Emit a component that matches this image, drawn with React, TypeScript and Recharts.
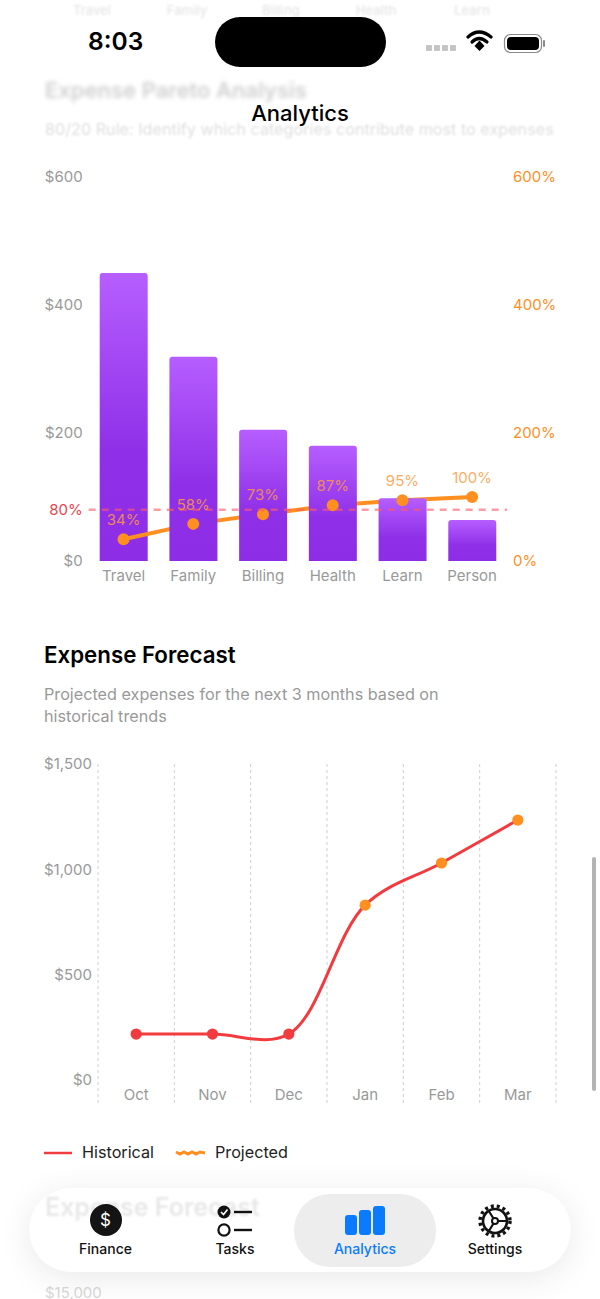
import React from 'react';
import {
  Bar,
  CartesianGrid,
  ComposedChart,
  Line,
  ReferenceLine,
  XAxis,
  YAxis,
} from 'recharts';

const FONT = 'Inter, "Noto Sans", sans-serif';
const GREY = '#999999';
const ORANGE = '#FF8F1F';
const RED = '#F23B3F';

const paretoCategories = ['Travel', 'Family', 'Billing', 'Health', 'Learn', 'Person'];
const paretoSpend = [450, 319, 205, 180, 98, 64];
const paretoCumulative = [34, 58, 73, 87, 95, 100];
const paretoUsdTicks = [0, 200, 400, 600];
const paretoPctTicks = [0, 200, 400, 600];

const forecastMonths = ['Oct', 'Nov', 'Dec', 'Jan', 'Feb', 'Mar'];
const forecastValues = [218, 218, 218, 830, 1030, 1234];
const forecastHistoricalCount = 3;
const forecastTicks = [0, 500, 1000, 1500];

// the first bar sits under the line, the others over it; dots go on top of everything
const paretoData = paretoCategories.map((name, i) => ({
  name,
  first: i === 0 ? paretoSpend[i] : null,
  rest: i === 0 ? null : paretoSpend[i],
  pct: paretoCumulative[i],
  pctDot: paretoCumulative[i],
}));

const forecastData = forecastMonths.map((name, i) => ({ name, value: forecastValues[i] }));

const money = (v: number) => `$${v.toLocaleString('en-US')}`;

// centripetal catmull-rom, closest to the reference's curve
function catmullRom(context: any) {
  let pts: number[][] = [];
  const dist = (a: number[], b: number[]) => Math.hypot(a[0] - b[0], a[1] - b[1]);
  return {
    areaStart() {},
    areaEnd() {},
    lineStart() {
      pts = [];
    },
    point(x: number, y: number) {
      pts.push([+x, +y]);
    },
    lineEnd() {
      pts.forEach((p2, i) => {
        if (i === 0) {
          context.moveTo(p2[0], p2[1]);
          return;
        }
        const p1 = pts[i - 1];
        const p0 = pts[i - 2] || p1;
        const p3 = pts[i + 1] || p2;
        const d01 = dist(p0, p1);
        const d12 = dist(p1, p2);
        const d23 = dist(p2, p3);
        const r01 = Math.sqrt(d01);
        const r12 = Math.sqrt(d12);
        const r23 = Math.sqrt(d23);
        const c1 = [p1[0], p1[1]];
        const c2 = [p2[0], p2[1]];
        if (r01 > 0) {
          const a = 2 * d01 + 3 * r01 * r12 + d12;
          const n = 3 * r01 * (r01 + r12);
          c1[0] = (p1[0] * a - p0[0] * d12 + p2[0] * d01) / n;
          c1[1] = (p1[1] * a - p0[1] * d12 + p2[1] * d01) / n;
        }
        if (r23 > 0) {
          const b = 2 * d23 + 3 * r23 * r12 + d12;
          const m = 3 * r23 * (r23 + r12);
          c2[0] = (p2[0] * b + p1[0] * d23 - p3[0] * d12) / m;
          c2[1] = (p2[1] * b + p1[1] * d23 - p3[1] * d12) / m;
        }
        context.bezierCurveTo(c1[0], c1[1], c2[0], c2[1], p2[0], p2[1]);
      });
    },
  };
}

function ForecastDot(props: any) {
  const { cx, cy, index } = props;
  const fill = index < forecastHistoricalCount ? RED : ORANGE;
  return <circle cx={cx} cy={cy} r={5.6} fill={fill} />;
}

function text(
  x: number,
  y: number,
  label: string,
  size: number,
  color: string,
  weight = 400,
  extra: React.CSSProperties = {},
) {
  return (
    <div
      style={{
        position: 'absolute',
        left: x,
        top: y,
        transform: 'translateY(-50%)',
        fontSize: size,
        color,
        fontWeight: weight,
        whiteSpace: 'nowrap',
        lineHeight: 1.2,
        ...extra,
      }}
    >
      {label}
    </div>
  );
}

function centered(x: number, y: number, label: string, size: number, color: string, weight = 400) {
  return text(x, y, label, size, color, weight, { transform: 'translate(-50%, -50%)' });
}

function StatusBar() {
  return (
    <>
      {text(88, 42, '8:03', 24.5, '#000', 600)}
      <div style={{ position: 'absolute', left: 215, top: 17, width: 171, height: 50, borderRadius: 25, background: '#000' }} />
      <svg style={{ position: 'absolute', left: 420, top: 28 }} width={130} height={30}>
        {[0, 1, 2, 3].map((i) => (
          <rect key={i} x={6 + i * 8} y={17} width={6} height={6} rx={1} fill="#c4c4c4" />
        ))}
        <path d="M48 9 Q59 -1 71 9" fill="none" stroke="#000" strokeWidth={3.2} strokeLinecap="round" />
        <path d="M52 14 Q59 7 67 14" fill="none" stroke="#000" strokeWidth={3.2} strokeLinecap="round" />
        <path d="M54.5 18 L59.5 12.5 L64.5 18 L59.5 23 Z" fill="#000" />
        <rect x={84.5} y={6.5} width={37} height={18} rx={6} fill="none" stroke="#8a8a8a" strokeWidth={1.2} />
        <rect x={87} y={9} width={32} height={13} rx={4} fill="#000" />
        <rect x={123} y={12} width={2} height={7} rx={1} fill="#8a8a8a" />
      </svg>
    </>
  );
}

function ParetoChart() {
  return (
    <div style={{ position: 'absolute', left: 0, top: 150 }}>
      <ComposedChart
        width={600}
        height={450}
        data={paretoData}
        margin={{ top: 27, right: 0, bottom: 0, left: 0 }}
      >
        <defs>
          <linearGradient id="barFill" x1="0" y1="0" x2="0" y2="1">
            <stop offset="0%" stopColor="#B65EFF" />
            <stop offset="62%" stopColor="#8F30E8" />
            <stop offset="100%" stopColor="#8D2EE6" />
          </linearGradient>
        </defs>
        <XAxis
          dataKey="name"
          scale="band"
          height={39}
          axisLine={false}
          tickLine={false}
          interval={0}
          tickMargin={3}
          tick={{ fontSize: 15, fill: GREY, fontFamily: FONT }}
        />
        <YAxis
          yAxisId="usd"
          width={88.7}
          domain={[0, 600]}
          ticks={paretoUsdTicks}
          interval={0}
          tickFormatter={money}
          axisLine={false}
          tickLine={false}
          tickMargin={0}
          tick={{ fontSize: 15, fill: GREY, fontFamily: FONT }}
        />
        <YAxis
          yAxisId="pct"
          orientation="right"
          width={93}
          domain={[0, 600]}
          ticks={paretoPctTicks}
          interval={0}
          tickFormatter={(v: number) => `${v}%`}
          axisLine={false}
          tickLine={false}
          tickMargin={0}
          tick={{ fontSize: 15, fill: ORANGE, fontFamily: FONT }}
        />
        <Bar yAxisId="usd" dataKey="first" stackId="s" barSize={48} fill="url(#barFill)" radius={[3, 3, 0, 0]} isAnimationActive={false} zIndex={200} />
        <Line yAxisId="pct" dataKey="pct" stroke={ORANGE} strokeWidth={4} dot={false} isAnimationActive={false} zIndex={300} />
        <Bar yAxisId="usd" dataKey="rest" stackId="s" barSize={48} fill="url(#barFill)" radius={[3, 3, 0, 0]} isAnimationActive={false} zIndex={400} />
        <Line
          yAxisId="pct"
          dataKey="pctDot"
          stroke="none"
          dot={{ r: 6, fill: ORANGE, stroke: 'none' }}
          label={{
            position: 'top',
            offset: 14,
            fontSize: 15,
            fontFamily: FONT,
            fill: '#FF9A3C',
            fillOpacity: 0.85,
            formatter: (v: number) => `${v}%`,
          }}
          isAnimationActive={false}
          zIndex={600}
        />
        <ReferenceLine
          yAxisId="usd"
          y={80}
          stroke="#FF5A6A"
          strokeOpacity={0.6}
          strokeWidth={2.5}
          strokeDasharray="7 6"
          label={{ value: '80%', position: 'left', offset: 6, fill: '#E8464F', fontSize: 15, fontFamily: FONT }}
          zIndex={1000}
        />
      </ComposedChart>
    </div>
  );
}

function ForecastChart() {
  const gridLines = ({ offset }: any) =>
    [...forecastMonths, ''].map((_, i) => offset.left + (i * offset.width) / forecastMonths.length);
  return (
    <div style={{ position: 'absolute', left: 0, top: 750 }}>
      <ComposedChart
        width={600}
        height={370}
        data={forecastData}
        margin={{ top: 14, right: 44, bottom: 0, left: 0 }}
      >
        <CartesianGrid
          horizontal={false}
          stroke="#cfcfcf"
          strokeDasharray="3 3"
          verticalCoordinatesGenerator={gridLines}
        />
        <XAxis
          dataKey="name"
          scale="band"
          height={16}
          axisLine={false}
          tickLine={false}
          interval={0}
          tickMargin={-21}
          tick={{ fontSize: 15, fill: GREY, fontFamily: FONT }}
        />
        <YAxis
          width={98}
          domain={[-114, 1500]}
          ticks={forecastTicks}
          interval={0}
          tickFormatter={money}
          axisLine={false}
          tickLine={false}
          tickMargin={0}
          tick={{ fontSize: 15, fill: GREY, fontFamily: FONT }}
        />
        <Line
          dataKey="value"
          type={catmullRom as any}
          stroke={RED}
          strokeWidth={3}
          dot={<ForecastDot />}
          isAnimationActive={false}
        />
      </ComposedChart>
    </div>
  );
}

function ForecastLegend() {
  return (
    <>
      <svg style={{ position: 'absolute', left: 44, top: 1146 }} width={170} height={14}>
        <line x1={0} y1={7} x2={28} y2={7} stroke={RED} strokeWidth={2.5} />
        <path
          d="M132 6 L136 8 L140 6 L144 8 L148 6 L152 8 L156 6 L161 7"
          fill="none"
          stroke={ORANGE}
          strokeWidth={3}
        />
      </svg>
      {text(82, 1153, 'Historical', 16.2, '#222')}
      {text(215, 1153, 'Projected', 16.2, '#222')}
    </>
  );
}

function TabBar() {
  return (
    <>
      <div
        style={{
          position: 'absolute',
          left: 29,
          top: 1188,
          width: 542,
          height: 84,
          borderRadius: 42,
          background: '#fff',
          boxShadow: '0 6px 34px rgba(0,0,0,0.09)',
        }}
      />
      {text(45, 1207, 'Expense Forecast', 25, '#e8e8e8', 600, { filter: 'blur(1.2px)' })}
      <div style={{ position: 'absolute', left: 294, top: 1194, width: 142, height: 73, borderRadius: 36, background: '#EDEDED' }} />
      <svg style={{ position: 'absolute', left: 0, top: 1190 }} width={600} height={60}>
        <ellipse cx={106} cy={30} rx={16} ry={16} fill="#141414" />
        <circle cx={224} cy={22} r={6.5} fill="#111" />
        <path d="M221 22 L223.5 24.5 L227.5 19.5" fill="none" stroke="#fff" strokeWidth={1.6} />
        <line x1={234} y1={22} x2={252} y2={22} stroke="#111" strokeWidth={2.4} />
        <circle cx={224} cy={40} r={5.6} fill="none" stroke="#111" strokeWidth={2.2} />
        <line x1={234} y1={40} x2={252} y2={40} stroke="#111" strokeWidth={2.4} />
        <rect x={345} y={25} width={12} height={20} rx={3} fill="#0A7BFF" />
        <rect x={359} y={20} width={12} height={25} rx={3} fill="#0A7BFF" />
        <rect x={373} y={16} width={12} height={29} rx={3} fill="#0A7BFF" />
        <circle cx={495} cy={31} r={12} fill="none" stroke="#111" strokeWidth={2.6} />
        <circle cx={495} cy={31} r={15} fill="none" stroke="#111" strokeWidth={3.4} strokeDasharray="3 3" />
        <circle cx={495} cy={31} r={3} fill="none" stroke="#111" strokeWidth={2} />
        <path d="M498 31 L507 31 M493.5 28.5 L488.5 20.5 M493.5 33.5 L488.5 41.5" stroke="#111" strokeWidth={2.2} />
      </svg>
      {text(100, 1220, '$', 17, '#fff', 400)}
      {centered(105.5, 1249, 'Finance', 14, '#111', 500)}
      {centered(235, 1249, 'Tasks', 14, '#111', 500)}
      {centered(365, 1249, 'Analytics', 14, '#0A7BFF', 500)}
      {centered(495, 1249, 'Settings', 14, '#111', 500)}
    </>
  );
}

const blurredTopRow: [string, number][] = [
  ['Travel', 92],
  ['Family', 187],
  ['Billing', 281],
  ['Health', 376],
  ['Learn', 472],
];

export default function App() {
  return (
    <div
      style={{
        position: 'absolute',
        left: 0,
        top: 0,
        width: 600,
        height: 1299,
        overflow: 'hidden',
        background: '#fff',
        fontFamily: FONT,
      }}
    >
      {blurredTopRow.map(([label, x]) => (
        <React.Fragment key={label}>
          {text(x, 11, label, 13, '#e6e6e6', 500, { transform: 'translate(-50%, -50%)', filter: 'blur(1px)' })}
        </React.Fragment>
      ))}
      {text(45, 90, 'Expense Pareto Analysis', 22, '#d0d0d0', 600, { filter: 'blur(2px)' })}
      {text(45, 130, '80/20 Rule: Identify which categories contribute most to expenses', 16.2, '#dedede', 400, { filter: 'blur(1.2px)' })}
      <StatusBar />
      {centered(300, 113, 'Analytics', 22, '#000', 500)}

      <ParetoChart />

      {text(44, 655, 'Expense Forecast', 22.3, '#000', 600)}
      {text(44, 695, 'Projected expenses for the next 3 months based on', 16.2, GREY)}
      {text(44, 717, 'historical trends', 16.2, GREY)}

      <ForecastChart />
      <ForecastLegend />

      {text(45, 1293, '$15,000', 15, '#d8d8d8')}
      <TabBar />

      <div style={{ position: 'absolute', left: 592, top: 857, width: 4, height: 234, borderRadius: 2, background: '#b4b4b4' }} />
    </div>
  );
}
